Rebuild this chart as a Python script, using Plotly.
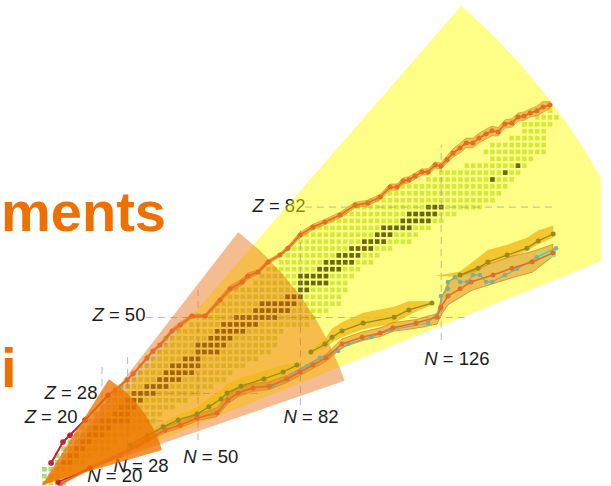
import numpy as np
import plotly.graph_objects as go

# ---------- nuclear chart rows: even Z, first and last even N of the known nuclides ----------
row_Z = [2,4,6,8,10,12,14,16,18,20,22,24,26,28,30,32,34,36,38,40,42,44,46,48,50,52,54,56,58,60,
         62,64,66,68,70,72,74,76,78,80,82,84,86,88,90,92,94,96,98,100,102,104,106,108,110]
row_N_first = [2,2,2,4,6,8,10,12,14,16,18,20,22,24,26,28,30,32,34,36,38,40,44,48,52,54,56,60,62,68,
               70,72,76,78,80,82,84,86,92,96,100,104,110,114,122,126,134,142,140,142,148,152,152,156,160]
row_N_last = [8,6,10,14,16,22,24,28,32,36,38,42,46,50,54,58,60,64,68,72,74,74,76,84,86,90,94,94,96,96,
              98,100,104,106,110,116,118,122,126,130,138,142,144,146,148,150,152,154,158,158,158,158,160,162,160]

# ---------- stable even-even nuclei ----------
stable = {
    8:[8,10], 10:[10,12], 12:[12,14], 14:[14,16], 16:[16,18,20], 18:[18,20,22], 20:[20,22,24,26,28],
    22:[24,26,28], 24:[26,28,30], 26:[28,30,32], 28:[30,32,34,36], 30:[34,36,38,40], 32:[38,40,42,44],
    34:[40,42,44,46,48], 36:[42,44,46,48,50], 38:[46,48,50], 40:[50,52,54,56], 42:[50,52,54,56,58],
    44:[54,56,58,60], 46:[56,58,60,62,64], 48:[58,60,62,64,66,68], 50:[62,64,66,68,70,72,74],
    52:[68,70,72,74,76,78], 54:[70,72,74,76,78,80], 56:[78,80,82], 58:[82,84],
    60:[82,84,86,88,90], 62:[82,84,86,88,90], 64:[88,90,92,94], 66:[90,92,94,96,98], 68:[94,96,98,100],
    70:[98,100,102,104], 72:[102,104,106,108], 74:[106,108,110], 76:[108,110,112,114,116],
    78:[114,116,118,120,122], 80:[116,118,120,122,124], 82:[122,124,126], 90:[142], 92:[146], 94:[150],
}

# ---------- two-proton drip line ----------
upper_N = [4.1,7.8,10,14.7,21.9,24.1,27.8,29.7,34.1,35.9,38.1,41.9,44.4,48.1,52.2,56.9,60,63.8,65.6,68.8,
           71.9,75.6,78.1,81.9,85.9,89.7,94.4,99.1,103.1,106.9,110,112.2,114.1,115.9,117.8,120,121.9,124.1,
           125.9,127.8,129.7,131.9,133.8,135.9,137.8,140,141.9,143.8,145.9,148.1,150,151.9,153.8,155.9,157.8,160]
upper_Z = [7.8,13.9,15.9,20.3,27.5,29,31.9,33.6,38.3,40.3,42,46.1,47.8,50.4,50.4,55.1,58.3,60.3,62,63.2,
           66.1,68.1,70.1,73.9,76.2,77.7,79.7,82.6,83.2,84.9,87.8,87.8,89.6,89.9,91,92.2,92.2,94.2,
           93.9,95.7,97.7,99.1,100.6,100.6,102,103.2,104.1,103.8,106.1,106.4,108.1,108.4,109.3,109.9,111,111.6]
upper_w = [.2,.2,.2,.2,.3,.3,.3,.3,.4,.4,.5,.7,.8,.6,.4,.8,.9,.9,.9,.6,
           .6,.5,.6,.8,.8,.8,.8,.8,.8,.8,.9,.9,.9,.9,.9,.9,.9,.9,
           .9,1,1.2,1.4,1.4,1.4,1.4,1.4,1.4,1.2,1.2,1.2,1.2,1.2,1.2,1.4,1.6,1.0]
red_N = [4.1,7.8,10,14.7,21.9]
red_Z = [7.8,13.9,15.9,20.3,27.5]
red_low_N = [6.3,16.3]
red_low_Z = [2.3,6.4]

# ---------- neutron-rich lines ----------
olive_a_N = [28.8,34.1,39.1,43.8,49.7,53.4,57.2,59.1,63.4,70.6,76.6,80.9]
olive_a_Z = [13,15.7,18.3,20.3,22,24.1,26.4,28.1,30.1,32.2,34.2,36.2]
olive_a_up = [.8,1,1.2,1.5,2,2.4,2.6,2.6,2.4,2.4,2.0,.6]
olive_a_dn = [.8,.8,1,1.2,1.5,1.8,1.8,1.8,1.8,1.8,1.5,.6]
olive_b_N = [85.3,89.7,91.9,95,101.6,111.3,115.9,123.1]
olive_b_Z = [40,42.3,44.3,46.1,48.4,50.1,52.2,54.2]
olive_b_up = [.3,1.5,2.5,2.5,3,3,2.5,.5]
olive_b_dn = [.3,1.2,1.5,1.8,1.8,1.8,1.5,.5]
olive_c_N = [124,131.9,137.5,140.6,146.6,152.8,156.3,161]
olive_c_Z = [62,62.3,64.3,66.1,68.1,70.1,72.2,74.2]
olive_c_up = [0,1,3,3.5,3,3,3,2.5]
olive_c_dn = [0,.5,.8,.8,.8,.8,1,1]

orange_N = [6.9,16.3,25.6,34.1,39.7,44.4,49.7,55.9,59.4,62.5,67.2,72.2,77.8,81.9,85.9,90,95,101.3,106.9,110.9,
            118.1,124.7,125.9,128.1,131.9,135.3,142.2,148.1,154.4,160.9]
orange_Z = [1.7,6.4,10.1,14.5,17.4,18.8,20.9,22.3,26.1,28.1,29.6,30.1,32.2,34.2,36.2,38.3,42.3,44.3,45.5,47,
            48.4,50.1,53,56.2,58.3,60.3,62.3,64.3,66.1,68.7]
orange_up = [.3,.5,.6,.8,1,1,1,1.5,1.5,1.5,1.2,1.2,1,1,1,1,1.5,1.5,1.5,1.5,1,1,2,4,4,3.5,3.5,3.5,3,2.5]
orange_dn = [.3,.4,.5,.6,.8,.8,.8,1,1,1,1,1,1,1,1,1,1,1,1,1,1.5,2,2.5,2.5,2.5,2.5,2.5,2.8,3,1]

teal_N = [73.4,84.1,88.1,93.8,96.9,104.1,110.3,121.9,125.9,125.9,128.1,128.1,130.3,131.9,134.1,135.9,138.1,140,141.9,
          145.9,149.7,155.9,161.9]
teal_Z = [30.1,35.9,38.3,40.3,42.3,44.3,46.4,48.4,52.5,56.2,58.3,60.3,61.7,60.3,60.3,62.3,62.3,60.3,60.3,
          62.3,64.1,67.5,70.1]
blob_N = [155.6,158,161.9,161.9,158,155.6]
blob_Z = [67.2,66.8,67.6,69.6,69.4,68.6]

magic_Z = [82,50,28,20]
magic_Z_from = [83.4,33.7,29,22]
magic_Z_to = [161.9,134,70,40]
magic_N = [126,82,50,28,20]
magic_N_from = [43.5,24.6,14.5,8.7,5.8]
magic_N_to = [100,77,58,38.5,37]

labels = ["<i>Z</i> = 82","<i>Z</i> = 50","<i>Z</i> = 28","<i>Z</i> = 20",
          "<i>N</i> = 126","<i>N</i> = 82","<i>N</i> = 50","<i>N</i> = 28","<i>N</i> = 20"]
label_N = [75.3,25.3,10.3,4.1,130.9,85.3,54,32.2,24]
label_Z = [82.0,50.2,27.8,20.7,37.6,20.9,9.1,6.7,3.6]

PX_N, PX_Z = 3.2, 3.45

def wedge(apex_N, apex_Z, radius, a0, a1):
    t = np.radians(np.linspace(a0, a1, 40))
    return ([apex_N] + list(apex_N + radius * np.cos(t) / PX_N),
            [apex_Z] + list(apex_Z + radius * np.sin(t) / PX_Z))

fig = go.Figure()

def poly(xs, ys, fill, line="rgba(0,0,0,0)", lw=0):
    fig.add_trace(go.Scatter(x=xs, y=ys, mode="lines", fill="toself", fillcolor=fill,
                             line=dict(color=line, width=lw), hoverinfo="skip", showlegend=False))

def band(N, Z, up, dn, fill, line="rgba(0,0,0,0)", lw=0):
    N, Z, up, dn = map(np.array, (N, Z, up, dn))
    poly(list(N) + list(N[::-1]), list(Z + up) + list((Z - dn)[::-1]), fill, line, lw)

def curve(N, Z, color, width=1.4, size=5):
    fig.add_trace(go.Scatter(x=N, y=Z, mode="lines+markers", line=dict(color=color, width=width),
                             marker=dict(color=color, size=size), hoverinfo="skip", showlegend=False))

# labels lie under the sectors, which tint them
fig.add_trace(go.Scatter(x=label_N, y=label_Z, text=labels, mode="text", textposition="middle center",
                         textfont=dict(family="Liberation Sans", size=18.5, color="#1c1c1c"),
                         hoverinfo="skip", showlegend=False, cliponaxis=False))

# light squares sit under the yellow sector
light_N, light_Z = [], []
for z, a, b in zip(row_Z, row_N_first, row_N_last):
    for n in range(a, b + 1, 2):
        light_N.append(n)
        light_Z.append(z)
fig.add_trace(go.Scatter(x=light_N, y=light_Z, mode="markers",
                         marker=dict(symbol="square", size=4.6, color="rgb(172,216,112)", line=dict(width=0)),
                         hoverinfo="skip", showlegend=False))

# yellow sector, cut off by the slide's right edge
yx, yy = wedge(1.25, 0.6, 639, 49, 29)
poly(yx + [175.9], yy + [66.4], "rgba(255,255,0,0.47)")

# stable nuclei
st_N = [n for z in stable for n in stable[z]]
st_Z = [z for z in stable for n in stable[z]]
fig.add_trace(go.Scatter(x=st_N, y=st_Z, mode="markers",
                         marker=dict(symbol="square", size=4.6, color="rgb(104,104,12)", line=dict(width=0)),
                         hoverinfo="skip", showlegend=False))

# dashed magic-number lines
for z, a, b in zip(magic_Z, magic_Z_from, magic_Z_to):
    fig.add_trace(go.Scatter(x=[a, b], y=[z, z], mode="lines", hoverinfo="skip", showlegend=False,
                             line=dict(color="rgba(150,150,150,0.65)", width=1, dash="7px,5px")))
for n, a, b in zip(magic_N, magic_N_from, magic_N_to):
    fig.add_trace(go.Scatter(x=[n, n], y=[a, b], mode="lines", hoverinfo="skip", showlegend=False,
                             line=dict(color="rgba(150,150,150,0.65)", width=1, dash="7px,5px")))

# salmon sector
sx, sy = wedge(1.25, 1.45, 320, 52.2, 19)
poly(sx, sy, "rgba(235,100,0,0.43)")

# bands and curves
GOLD = "rgba(240,185,25,0.8)"
band(olive_a_N, olive_a_Z, olive_a_up, olive_a_dn, GOLD)
band(olive_b_N, olive_b_Z, olive_b_up, olive_b_dn, GOLD)
band(olive_c_N, olive_c_Z, olive_c_up, olive_c_dn, GOLD)
band(orange_N, orange_Z, orange_up, orange_dn, "rgba(215,130,30,0.5)", "rgba(225,130,40,0.8)", 1)
poly(blob_N, blob_Z, "rgb(176,222,112)")
curve(teal_N, teal_Z, "rgb(125,178,145)", 1.2, 4.5)
curve(olive_a_N, olive_a_Z, "rgb(150,140,30)", 1.3, 5)
curve(olive_b_N, olive_b_Z, "rgb(150,140,30)", 1.3, 5)
curve(olive_c_N[1:], olive_c_Z[1:], "rgb(150,140,30)", 1.3, 5)
curve(orange_N, orange_Z, "rgb(228,110,40)", 1.6, 5)
band(upper_N, upper_Z, upper_w, upper_w, "rgba(225,125,30,0.5)", "rgba(225,125,30,0.7)", 0.8)
curve(upper_N, upper_Z, "rgb(226,112,30)", 1.8, 5)
curve(red_N, red_Z, "rgb(196,32,60)", 1.8, 5.5)
curve(red_low_N, red_low_Z, "rgb(196,32,60)", 1.6, 5.5)

# dark orange sector
dx, dy = wedge(1.25, 1.45, 125, 57.7, 16.3)
poly(dx, dy, "rgba(238,116,0,0.78)")

ORANGE = "#EF7000"
for txt, py in (("ments", 211.5), ("i", 367.5)):
    fig.add_annotation(xref="paper", yref="paper", x=0.0, y=1 - py / 486, text="<b>%s</b>" % txt,
                       showarrow=False, xanchor="left", yanchor="middle", xshift=-1,
                       font=dict(family="Liberation Sans", size=56, color=ORANGE))

fig.update_layout(width=611, height=486, autosize=False, margin=dict(l=0, r=0, t=0, b=0),
                  paper_bgcolor="white", plot_bgcolor="white", showlegend=False,
                  xaxis=dict(visible=False, range=[-11.875, 179.06], fixedrange=True),
                  yaxis=dict(visible=False, range=[1.16, 142.03], fixedrange=True))
fig.write_html("out.html", config=dict(displayModeBar=False),
               post_script="document.body.style.margin='0';")
